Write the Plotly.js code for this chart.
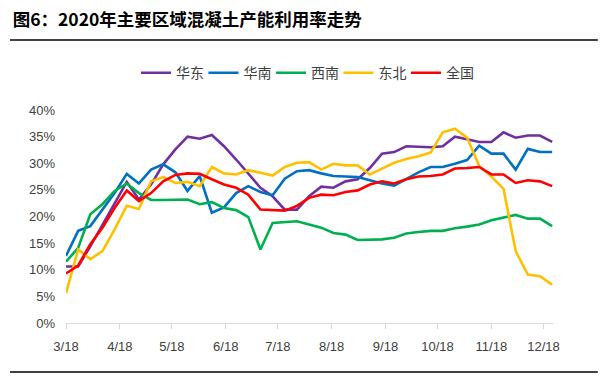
<!DOCTYPE html>
<html>
<head>
<meta charset="utf-8">
<script src="https://cdn.plot.ly/plotly-3.0.1.min.js"></script>
<style>
  html, body { margin: 0; padding: 0; background: #fff; }
  #chart { width: 603px; height: 377px; }
</style>
</head>
<body>
<div id="chart"></div>
<script>
const dates = [
  '2020-03-18','2020-03-25','2020-04-01','2020-04-08','2020-04-15','2020-04-22','2020-04-29',
  '2020-05-06','2020-05-13','2020-05-20','2020-05-27','2020-06-03','2020-06-10','2020-06-17',
  '2020-06-24','2020-07-01','2020-07-08','2020-07-15','2020-07-22','2020-07-29','2020-08-05',
  '2020-08-12','2020-08-19','2020-08-26','2020-09-02','2020-09-09','2020-09-16','2020-09-23',
  '2020-09-30','2020-10-07','2020-10-14','2020-10-21','2020-10-28','2020-11-04','2020-11-11',
  '2020-11-18','2020-11-25','2020-12-02','2020-12-09','2020-12-16','2020-12-23'
];

const huadong = [10.6,10.6,14.4,18.5,22.6,26.5,23.2,26.0,29.8,32.6,35.0,34.6,35.3,33.2,30.7,28.0,25.4,23.8,21.3,21.3,23.8,25.6,25.4,26.6,27.0,29.1,31.8,32.1,33.2,33.1,33.0,33.2,35.0,34.5,34.0,34.0,35.8,34.8,35.2,35.2,34.0];
const huanan  = [12.6,17.3,18.2,21.3,24.4,28.0,26.2,28.8,29.8,28.3,24.8,27.6,20.7,21.7,24.4,25.7,24.6,24.0,27.1,28.5,28.7,28.1,27.6,27.5,27.4,26.8,26.2,25.8,27.1,28.3,29.3,29.3,29.9,30.6,33.3,31.8,31.8,28.8,32.7,32.1,32.1];
const xinan   = [11.5,14.1,20.4,22.3,24.8,26.2,24.4,23.1,23.1,23.1,23.2,22.3,22.7,21.6,21.2,19.9,13.8,18.8,18.9,19.1,18.5,17.9,16.9,16.6,15.6,15.7,15.7,16.0,16.8,17.1,17.3,17.3,17.8,18.1,18.5,19.3,19.8,20.3,19.6,19.6,18.2];
const dongbei = [5.6,13.8,12.0,13.5,17.6,22.0,21.4,26.6,27.4,26.3,26.5,25.7,29.3,28.1,27.9,28.7,28.2,27.7,29.3,30.1,30.2,28.8,29.9,29.6,29.6,27.9,29.0,30.1,30.8,31.3,32.0,35.8,36.5,34.8,29.5,27.5,25.2,13.5,9.1,8.8,7.2];
const quanguo = [9.3,10.8,14.8,17.9,21.6,24.9,22.9,24.4,26.6,27.8,28.1,28.0,27.0,26.0,25.4,24.1,21.3,21.2,21.1,22.0,23.5,24.1,24.0,24.6,24.9,26.0,26.6,26.2,27.0,27.5,27.6,27.9,29.0,29.1,29.3,27.9,27.9,26.3,26.8,26.6,25.7];

const seriesNames = ['华东','华南','西南','东北','全国'];
const seriesColors = ['#7030A0','#0070C0','#00B050','#FFC000','#FF0000'];
const seriesValues = [huadong, huanan, xinan, dongbei, quanguo];

const tickDates = ['2020-03-18','2020-04-18','2020-05-18','2020-06-18','2020-07-18','2020-08-18','2020-09-18','2020-10-18','2020-11-18','2020-12-18'];
const tickLabels = ['3/18','4/18','5/18','6/18','7/18','8/18','9/18','10/18','11/18','12/18'];

const titleText = '图6：2020年主要区域混凝土产能利用率走势';

const traces = seriesNames.map((n, i) => ({
  type: 'scatter',
  mode: 'lines',
  name: n,
  x: dates,
  y: seriesValues[i],
  line: { color: seriesColors[i], width: 2.6 },
  hoverinfo: 'skip'
}));

const layout = {
  width: 603,
  height: 377,
  margin: { l: 66, r: 50, t: 110, b: 54 },
  paper_bgcolor: '#ffffff',
  plot_bgcolor: '#ffffff',
  font: { family: 'Liberation Sans, Arial, sans-serif', color: '#404040', size: 13 },
  title: {
    text: '<b>' + titleText + '</b>',
    x: 0.021, xanchor: 'left', xref: 'container',
    y: 0.948, yanchor: 'middle', yref: 'container',
    font: { family: 'Noto Sans CJK SC, sans-serif', size: 17.5, color: '#000000' }
  },
  showlegend: true,
  legend: {
    orientation: 'h',
    x: 0.2255, xanchor: 'left', xref: 'container',
    y: 0.806, yanchor: 'middle', yref: 'container',
    font: { family: 'Noto Sans CJK SC, sans-serif', size: 14, color: '#404040' },
    entrywidth: 22.5,
    itemwidth: 30,
    bgcolor: 'rgba(0,0,0,0)'
  },
  xaxis: {
    type: 'date',
    range: ['2020-03-18', '2020-12-23 12:00'],
    tickvals: tickDates,
    ticktext: tickLabels,
    showgrid: false,
    zeroline: false,
    showline: true,
    linecolor: '#d9d9d9',
    linewidth: 1,
    ticks: 'outside',
    ticklen: 5,
    tickcolor: '#d9d9d9',
    ticklabelstandoff: 6,
    tickfont: { family: 'Liberation Sans, Arial, sans-serif', size: 13, color: '#404040' },
    fixedrange: true
  },
  yaxis: {
    range: [0, 40],
    dtick: 5,
    tick0: 0,
    ticksuffix: '%',
    showgrid: false,
    zeroline: false,
    showline: false,
    ticks: '',
    ticklabelstandoff: 10,
    tickfont: { family: 'Liberation Sans, Arial, sans-serif', size: 13, color: '#404040' },
    fixedrange: true
  },
  shapes: [
    { type: 'line', xref: 'paper', yref: 'paper', x0: -0.115, x1: 1.092, y0: 1.329, y1: 1.329, line: { color: '#000000', width: 1.5 } },
    { type: 'line', xref: 'paper', yref: 'paper', x0: -0.115, x1: 1.092, y0: -0.23, y1: -0.23, line: { color: '#000000', width: 1.5 } }
  ]
};

Plotly.newPlot('chart', traces, layout, { staticPlot: true, displayModeBar: false });
</script>
</body>
</html>
